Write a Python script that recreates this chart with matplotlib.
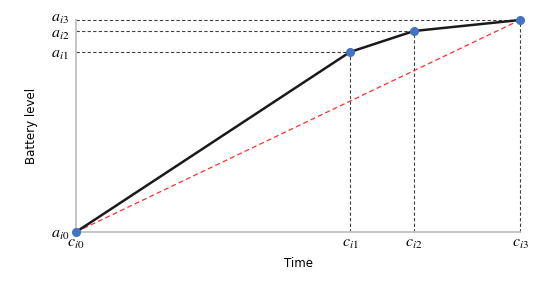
import matplotlib.pyplot as plt
import matplotlib.transforms as mtransforms

# charge levels over time (normalised)
c_vals = [0.0, 0.617, 0.761, 1.0]
a_vals = [0.0, 0.849, 0.948, 1.0]
c_labels = [r'$c_{i0}$', r'$c_{i1}$', r'$c_{i2}$', r'$c_{i3}$']
a_labels = [r'$a_{i0}$', r'$a_{i1}$', r'$a_{i2}$', r'$a_{i3}$']

plt.rcParams['mathtext.fontset'] = 'stix'

fig = plt.figure(figsize=(5.45, 2.81), dpi=100)
ax = fig.add_axes([76/545, 1 - 232/281, 444/545, 212/281])

# guide lines
for c, a in zip(c_vals[1:], a_vals[1:]):
    ax.plot([0, c], [a, a], color='#404040', ls=(0, (3, 2)), lw=0.8, zorder=1, clip_on=False)
    ax.plot([c, c], [0, a], color='#404040', ls=(0, (3, 2)), lw=0.8, zorder=1, clip_on=False)

# straight reference line
ax.plot([c_vals[0], c_vals[-1]], [a_vals[0], a_vals[-1]], color='#ff3030',
        ls=(0, (4, 2.5)), lw=0.9, zorder=2, clip_on=False)

ax.plot(c_vals, a_vals, color='#1a1a1a', lw=1.8, zorder=3, clip_on=False)
ax.plot(c_vals, a_vals, 'o', color='#4472c4', ms=5.5, zorder=4, clip_on=False)

ax.set_xlim(0, 1)
ax.set_ylim(0, 1)
for s in ['top', 'right']:
    ax.spines[s].set_visible(False)
for s in ['left', 'bottom']:
    ax.spines[s].set_color('#c0c0c0')
    ax.spines[s].set_linewidth(1.3)

ax.set_xticks(c_vals)
ax.set_xticklabels(c_labels, fontsize=11.5)
ax.set_yticks(a_vals)
ax.set_yticklabels(a_labels, fontsize=11.5)
ax.tick_params(length=0)
ax.tick_params(axis='x', pad=3)
ax.tick_params(axis='y', pad=5)

# nudge the crowded top labels apart
yl = ax.get_yticklabels()
yl[3].set_transform(yl[3].get_transform() + mtransforms.ScaledTranslation(0, 4/100, fig.dpi_scale_trans))
yl[2].set_transform(yl[2].get_transform() + mtransforms.ScaledTranslation(0, -1/100, fig.dpi_scale_trans))

ax.set_xlabel('Time', fontsize=8.5, labelpad=4)
ax.set_ylabel('Battery level', fontsize=8.5, labelpad=9)

fig.savefig('out.png', dpi=100)
